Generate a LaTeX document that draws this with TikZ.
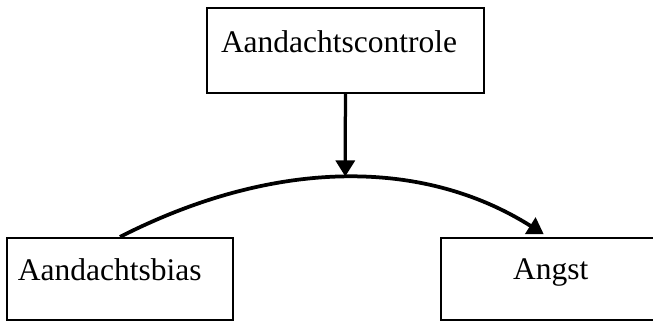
\documentclass[tikz,border=0pt]{standalone}
\usepackage{fontspec}
\setmainfont{Liberation Serif}
\usetikzlibrary{arrows.meta, positioning}

\begin{document}
\begin{tikzpicture}[x=0.4pt, y=-0.4pt,
    box/.style={rectangle, draw=black, line width=0.9pt, inner ysep=0pt, align=left, font=\fontsize{12.6}{15}\selectfont},
    >={Triangle[length=6.4pt, width=7.6pt]}]
\useasboundingbox (0,0) rectangle (653,322);
\clip (0,0) rectangle (653,322);

% Attention control
\node[box, inner xsep=5.6pt, text width=99.6pt, text height=17.6pt, text depth=16.4pt] (ctrl) at (345.5,50.5) {Aandachtscontrole};

% Attention bias
\node[box, inner xsep=4.4pt, text width=81.6pt, text height=16.8pt, text depth=16pt] (bias) at (120,279) {Aandachtsbias};

% Anxiety (runs past the right edge)
\node[box, anchor=west, inner xsep=28.8pt, text width=60pt, text height=16.4pt, text depth=16.4pt] (angst) at (440,279) {Angst};

% Moderated path
\draw[->, line width=1.5pt, shorten >=2pt] (bias.north) .. controls (275,158) and (423,158) .. coordinate[pos=0.5] (mid) ([xshift=43.2pt]angst.north west);
\draw[->, line width=1.3pt, shorten >=0.5pt] (ctrl) -- (mid);
\end{tikzpicture}
\end{document}
